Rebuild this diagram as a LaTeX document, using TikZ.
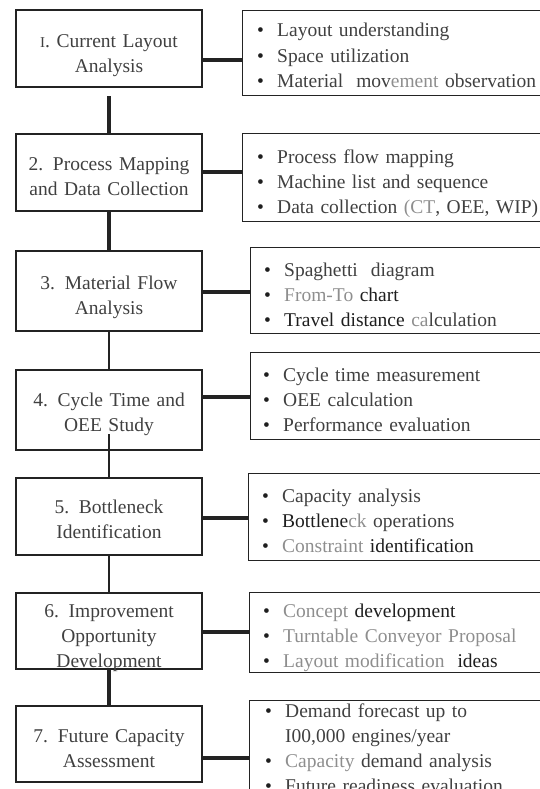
\documentclass[tikz,border=0pt]{standalone}
\usepackage{fontspec}
\setmainfont{Liberation Serif}
\usepackage{tikz}

\definecolor{ink}{HTML}{404040}
\definecolor{deep}{HTML}{1E1E1E}
\definecolor{pale}{HTML}{8E8E8E}
\definecolor{edge}{HTML}{232323}
\newcommand{\bul}[1]{\makebox[20pt][l]{\color{deep}\textbullet}#1}
\newcommand{\gr}[1]{\textcolor{pale}{#1}}
\newcommand{\dk}[1]{\textcolor{deep}{#1}}

\begin{document}
\begin{tikzpicture}[x=1pt,y=-1pt,
    stage/.style={draw=edge,line width=2.7pt,minimum width=186pt},
    stagetext/.style={anchor=base,text width=186pt,align=center,inner sep=0pt,
        text=ink,font=\fontsize{19.5}{25}\selectfont},
    detail/.style={draw=edge,line width=1.4pt,anchor=north west,minimum width=330pt},
    detailtext/.style={anchor=base west,text width=300pt,align=left,inner sep=0pt,
        text=ink,font=\fontsize{19.5}{25.3}\selectfont},
    boldlink/.style={draw=edge,line width=3.2pt},
    thinlink/.style={draw=edge,line width=2pt}]
    \useasboundingbox (0,0) rectangle (540,789);
    \clip (0,0) rectangle (540,789);

    % stages on the left
    \node[stage,minimum height=77pt] (s1) at (109,48.5) {};
    \node[stage,minimum height=77pt] (s2) at (109,172.5) {};
    \node[stage,minimum height=80pt] (s3) at (109,291) {};
    \node[stage,minimum height=80pt] (s4) at (109,410) {};
    \node[stage,minimum height=77pt] (s5) at (109,516.5) {};
    \node[stage,minimum height=76pt] (s6) at (109,631) {};
    \node[stage,minimum height=76pt] (s7) at (109,744) {};

    \node[stagetext] (s1t) at (109,48) {{\fontsize{15}{25}\selectfont I}. Current Layout\\Analysis};
    \node[stagetext] (s2t) at (109,170) {2. Process Mapping\\and Data Collection};
    \node[stagetext] (s3t) at (109,289) {3. Material Flow\\Analysis};
    \node[stagetext] (s4t) at (109,406) {4. Cycle Time and\\OEE Study};
    \node[stagetext] (s5t) at (109,513) {5. Bottleneck\\Identification};
    \node[stagetext] (s6t) at (109,617) {6. Improvement\\Opportunity\\Development};
    \node[stagetext] (s7t) at (109,742) {7. Future Capacity\\Assessment};

    % details on the right
    \node[detail,minimum height=85pt] (d1) at (242,10) {};
    \node[detail,minimum height=88pt] (d2) at (242,133) {};
    \node[detail,minimum height=86pt] (d3) at (250,247) {};
    \node[detail,minimum height=87pt] (d4) at (250,352) {};
    \node[detail,minimum height=87pt] (d5) at (248,473) {};
    \node[detail,minimum height=80pt] (d6) at (249,592) {};
    \node[detail,minimum height=110pt] (d7) at (249,700) {};

    \node[detailtext] (d1t) at (257,37) {\bul{Layout understanding}\\
        \bul{Space utilization}\\
        \bul{Material\ \ mov\gr{ement} observation}};
    \node[detailtext] (d2t) at (257,163) {\bul{Process flow mapping}\\
        \bul{Machine list and sequence}\\
        \bul{Data collection \gr{(CT}, OEE, WIP)}};
    \node[detailtext] (d3t) at (264,276) {\bul{Spaghetti\ \ diagram}\\
        \bul{\gr{From-To} \dk{chart}}\\
        \bul{\dk{Travel distance} \gr{ca}lculation}};
    \node[detailtext] (d4t) at (263,381) {\bul{Cycle time measurement}\\
        \bul{OEE calculation}\\
        \bul{Performance evaluation}};
    \node[detailtext] (d5t) at (262,502) {\bul{Capacity analysis}\\
        \bul{\dk{Bottlene}\gr{ck} operations}\\
        \bul{\gr{Constraint} \dk{identification}}};
    \node[detailtext] (d6t) at (263,617) {\bul{\gr{Concept} \dk{development}}\\
        \bul{\gr{Turntable Conveyor Proposal}}\\
        \bul{\gr{Layout modification}\ \ \dk{ideas}}};
    \node[detailtext] (d7t) at (265,717) {\bul{Demand forecast up to}\\
        \hspace*{20pt}I00,000 engines/year\\
        \bul{\gr{Capacity} demand analysis}\\
        \bul{Future readiness evaluation}};

    % links down the chain
    \draw[boldlink,shorten <=8pt] (s1) -- (s2);
    \draw[boldlink] (s2) -- (s3);
    \draw[thinlink] (s3) -- (s4);
    \draw[thinlink,shorten <=-17pt] (s4) -- (s5);
    \draw[thinlink] (s5) -- (s6);
    \draw[boldlink] (s6) -- (s7);

    % links across
    \draw[boldlink] (s1.east |- 0,60) -- (d1.west |- 0,60);
    \draw[boldlink] (s2.east |- 0,172) -- (d2.west |- 0,172);
    \draw[boldlink] (s3.east |- 0,292) -- (d3.west |- 0,292);
    \draw[boldlink] (s4.east |- 0,397) -- (d4.west |- 0,397);
    \draw[boldlink] (s5.east |- 0,518) -- (d5.west |- 0,518);
    \draw[boldlink] (s6.east |- 0,632) -- (d6.west |- 0,632);
    \draw[boldlink] (s7.east |- 0,758) -- (d7.west |- 0,758);
\end{tikzpicture}
\end{document}
